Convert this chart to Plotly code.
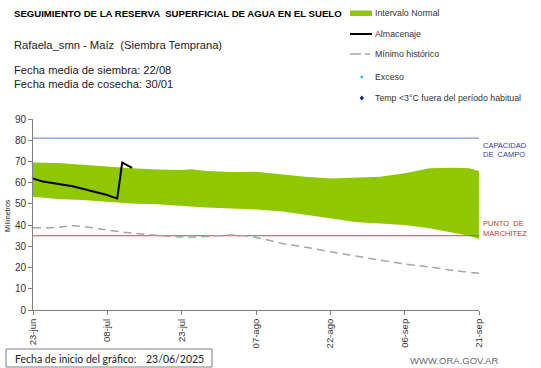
import plotly.graph_objects as go

# ---------------- data ----------------
band_dates = ["2025-06-23", "2025-06-28", "2025-07-03", "2025-07-08", "2025-07-13",
              "2025-07-18", "2025-07-23", "2025-07-25", "2025-07-28", "2025-08-02",
              "2025-08-07", "2025-08-12", "2025-08-17", "2025-08-22", "2025-08-27",
              "2025-09-01", "2025-09-06", "2025-09-11", "2025-09-16", "2025-09-19",
              "2025-09-21"]
band_upper = [69.5, 69.3, 68.5, 67.5, 66.8, 66.2, 66.0, 66.3, 65.5, 65.0,
              65.2, 64.0, 62.8, 62.0, 62.5, 62.8, 64.4, 66.8, 67.0, 66.8, 65.5]
band_lower = [53.4, 52.3, 51.8, 51.0, 50.2, 49.8, 49.0, 48.7, 48.3, 47.8,
              47.4, 46.5, 45.0, 43.2, 41.5, 40.8, 40.0, 38.5, 36.5, 35.0, 33.5]

alm_dates = ["2025-06-23", "2025-06-25", "2025-07-01", "2025-07-06", "2025-07-08",
             "2025-07-09", "2025-07-10", "2025-07-11", "2025-07-12", "2025-07-13"]
alm_values = [62.0, 60.5, 58.3, 55.6, 54.2, 53.3, 52.6, 69.5, 68.3, 67.0]

min_dates = ["2025-06-23", "2025-06-28", "2025-07-01", "2025-07-05", "2025-07-08",
             "2025-07-13", "2025-07-18", "2025-07-23", "2025-07-28", "2025-08-02",
             "2025-08-07", "2025-08-12", "2025-08-17", "2025-08-22", "2025-08-27",
             "2025-09-01", "2025-09-06", "2025-09-11", "2025-09-16", "2025-09-21"]
min_values = [38.7, 39.0, 39.7, 38.8, 37.7, 36.2, 35.2, 34.4, 34.6, 35.3,
              34.2, 31.5, 29.6, 27.5, 25.5, 23.5, 21.7, 20.3, 18.6, 17.3]

capacidad_campo = 81
punto_marchitez = 35

tick_dates = ["2025-06-23", "2025-07-08", "2025-07-23", "2025-08-07",
              "2025-08-22", "2025-09-06", "2025-09-21"]
tick_labels = ["23-jun", "08-jul", "23-jul", "07-ago", "22-ago", "06-sep", "21-sep"]
y_ticks = [0, 10, 20, 30, 40, 50, 60, 70, 80, 90]

# ---------------- layout geometry ----------------
W, H = 541, 368
L, R, T, B = 33, 62, 119, 58
PW, PH = W - L - R, H - T - B

def px(x):
    return (x - L) / PW

def py(y):
    return (H - B - y) / PH

GREEN = "rgb(143,199,0)"
BLUE = "#5B7FD0"
RED = "#C0504D"
GREY = "#A6A6A6"
FONT = "Liberation Sans, Arial, sans-serif"

fig = go.Figure()

fig.add_trace(go.Scatter(x=band_dates, y=band_lower, mode="lines",
                         line=dict(width=0, color=GREEN), showlegend=False,
                         hoverinfo="skip"))
fig.add_trace(go.Scatter(x=band_dates, y=band_upper, mode="lines",
                         line=dict(width=0, color=GREEN), fill="tonexty",
                         fillcolor=GREEN, showlegend=False, name="Intervalo Normal"))

fig.add_trace(go.Scatter(x=[tick_dates[0], tick_dates[-1]],
                         y=[capacidad_campo, capacidad_campo], mode="lines",
                         line=dict(width=1, color=BLUE), showlegend=False))
fig.add_trace(go.Scatter(x=[tick_dates[0], tick_dates[-1]],
                         y=[punto_marchitez, punto_marchitez], mode="lines",
                         line=dict(width=1, color=RED), showlegend=False))

fig.add_trace(go.Scatter(x=min_dates, y=min_values, mode="lines",
                         line=dict(width=1.5, color=GREY, dash="8px,5px", shape="spline"),
                         showlegend=False, name="Mínimo histórico"))
fig.add_trace(go.Scatter(x=alm_dates, y=alm_values, mode="lines",
                         line=dict(width=2, color="black"),
                         showlegend=False, name="Almacenaje"))

shapes = []
annotations = []

# legend (manual)
lx0, lx1, ltx = 350, 372, 373
shapes.append(dict(type="rect", xref="paper", yref="paper",
                   x0=px(lx0), x1=px(lx1), y0=py(16), y1=py(10.5),
                   fillcolor=GREEN, line=dict(width=0)))
shapes.append(dict(type="line", xref="paper", yref="paper",
                   x0=px(lx0), x1=px(lx1), y0=py(34), y1=py(34),
                   line=dict(color="black", width=2)))
shapes.append(dict(type="line", xref="paper", yref="paper",
                   x0=px(lx0), x1=px(361), y0=py(54), y1=py(54),
                   line=dict(color=GREY, width=1.5)))
shapes.append(dict(type="line", xref="paper", yref="paper",
                   x0=px(365), x1=px(370), y0=py(54), y1=py(54),
                   line=dict(color=GREY, width=1.5)))
shapes.append(dict(type="circle", xref="paper", yref="paper",
                   x0=px(360.3), x1=px(363.3), y0=py(78.5), y1=py(75.5),
                   fillcolor="#2EC4D6", line=dict(width=0)))
cx, cy = px(361.8), py(98)
dx, dy = 2.2 / PW, 2.6 / PH
shapes.append(dict(type="path", xref="paper", yref="paper",
                   path=f"M {cx},{cy+dy} L {cx+dx},{cy} L {cx},{cy-dy} L {cx-dx},{cy} Z",
                   fillcolor="#1F1F9E", line=dict(width=0)))

legend_items = [("Intervalo Normal", 13), ("Almacenaje", 34), ("Mínimo histórico", 54),
                ("Exceso", 77), ("Temp <3°C fuera del período habitual", 98)]
for txt, yy in legend_items:
    annotations.append(dict(xref="paper", yref="paper", x=px(ltx), y=py(yy),
                            xanchor="left", yanchor="middle", showarrow=False,
                            text=txt, font=dict(family=FONT, size=8.8, color="#333333")))

# header texts
annotations.append(dict(xref="paper", yref="paper", x=px(12), y=py(14),
                        xanchor="left", yanchor="middle", showarrow=False,
                        text="<b>SEGUIMIENTO DE LA RESERVA  SUPERFICIAL DE AGUA EN EL SUELO</b>",
                        font=dict(family=FONT, size=9.6, color="black")))
annotations.append(dict(xref="paper", yref="paper", x=px(12), y=py(45),
                        xanchor="left", yanchor="middle", showarrow=False,
                        text="Rafaela_smn - Maíz  (Siembra Temprana)",
                        font=dict(family=FONT, size=11.2, color="#222222")))
annotations.append(dict(xref="paper", yref="paper", x=px(12), y=py(70),
                        xanchor="left", yanchor="middle", showarrow=False,
                        text="Fecha media de siembra: 22/08",
                        font=dict(family=FONT, size=11.2, color="#222222")))
annotations.append(dict(xref="paper", yref="paper", x=px(12), y=py(84),
                        xanchor="left", yanchor="middle", showarrow=False,
                        text="Fecha media de cosecha: 30/01",
                        font=dict(family=FONT, size=11.2, color="#222222")))

# line labels
annotations.append(dict(xref="paper", yref="paper", x=px(481), y=py(145),
                        xanchor="left", yanchor="middle", showarrow=False,
                        text="CAPACIDAD", font=dict(family=FONT, size=7.5, color="#3A3AB0")))
annotations.append(dict(xref="paper", yref="paper", x=px(481), y=py(154.5),
                        xanchor="left", yanchor="middle", showarrow=False,
                        text="DE  CAMPO", font=dict(family=FONT, size=7.5, color="#3A3AB0")))
annotations.append(dict(xref="paper", yref="paper", x=px(481), y=py(223.5),
                        xanchor="left", yanchor="middle", showarrow=False,
                        text="PUNTO  DE", font=dict(family=FONT, size=7.5, color="#C0392B")))
annotations.append(dict(xref="paper", yref="paper", x=px(481), y=py(233.5),
                        xanchor="left", yanchor="middle", showarrow=False,
                        text="MARCHITEZ", font=dict(family=FONT, size=7.5, color="#C0392B")))

# y axis title
annotations.append(dict(xref="paper", yref="paper", x=px(7), y=py(216),
                        xanchor="center", yanchor="middle", showarrow=False,
                        textangle=-90, text="Milímetros",
                        font=dict(family=FONT, size=7, color="#222222")))

# bottom box
shapes.append(dict(type="rect", xref="paper", yref="paper",
                   x0=px(6), x1=px(212), y0=py(349), y1=py(367),
                   line=dict(color="#7F7F7F", width=1), fillcolor="white"))
annotations.append(dict(xref="paper", yref="paper", x=px(13), y=py(358.5),
                        xanchor="left", yanchor="middle", showarrow=False,
                        text="Fecha de inicio del gráfico:",
                        font=dict(family="Lato, sans-serif", size=10.5, color="#222222")))
annotations.append(dict(xref="paper", yref="paper", x=px(144), y=py(358.5),
                        xanchor="left", yanchor="middle", showarrow=False,
                        text="23/06/2025",
                        font=dict(family="Lato, sans-serif", size=10.5, color="#222222")))
annotations.append(dict(xref="paper", yref="paper", x=px(500), y=py(360),
                        xanchor="right", yanchor="middle", showarrow=False,
                        text="WWW.ORA.GOV.AR",
                        font=dict(family=FONT, size=9.5, color="#6B6B6B")))

fig.update_layout(
    width=W, height=H,
    margin=dict(l=L, r=R, t=T, b=B, pad=0, autoexpand=False),
    paper_bgcolor="white", plot_bgcolor="white",
    showlegend=False,
    shapes=shapes, annotations=annotations,
    xaxis=dict(type="date", range=[tick_dates[0], tick_dates[-1]],
               tickvals=tick_dates, ticktext=tick_labels, tickangle=-90,
               automargin=False,
               showgrid=False, zeroline=False, showline=True,
               linecolor="#808080", linewidth=1, ticks="outside", ticklen=4,
               tickcolor="#808080",
               tickfont=dict(family=FONT, size=9.5, color="#333333")),
    yaxis=dict(range=[0, 90], tickvals=y_ticks, showgrid=False, zeroline=False,
               automargin=False,
               showline=True, linecolor="#808080", linewidth=1, ticks="outside",
               ticklen=4, tickcolor="#808080",
               tickfont=dict(family=FONT, size=10, color="#333333")),
)

fig.write_html("out.html", config={"displayModeBar": False},
               post_script="document.body.style.margin='0';document.body.style.overflow='hidden';")
